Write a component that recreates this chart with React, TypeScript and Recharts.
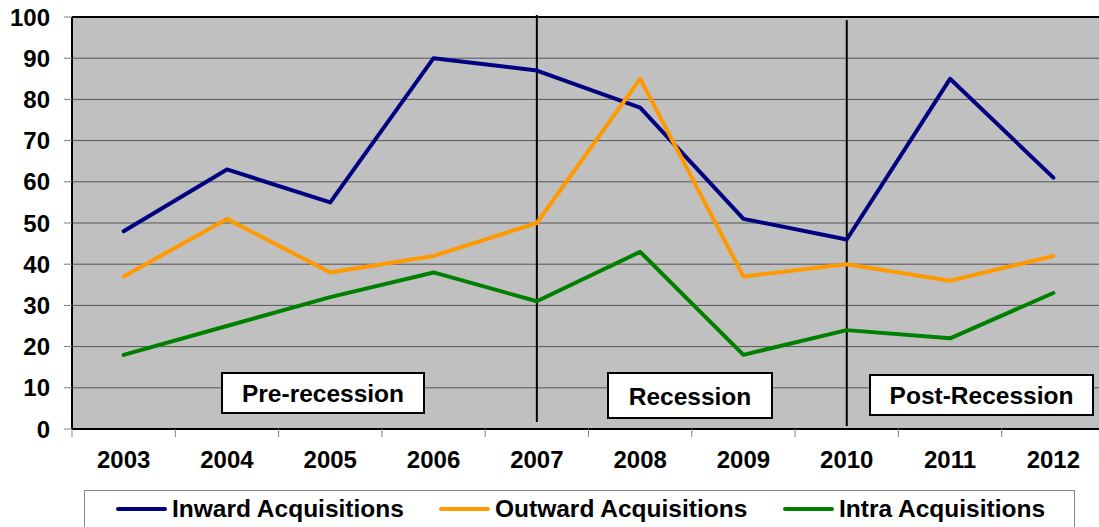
import React from "react"
import { LineChart, Line, XAxis, YAxis, CartesianGrid, ReferenceLine } from "recharts"

const years = ["2003", "2004", "2005", "2006", "2007", "2008", "2009", "2010", "2011", "2012"]
const inward = [48, 63, 55, 90, 87, 78, 51, 46, 85, 61]
const outward = [37, 51, 38, 42, 50, 85, 37, 40, 36, 42]
const intra = [18, 25, 32, 38, 31, 43, 18, 24, 22, 33]
const yTicks = [0, 10, 20, 30, 40, 50, 60, 70, 80, 90, 100]
const periodBreaks = ["2007", "2010"]

const series = [
  { key: "inward", name: "Inward Acquisitions", color: "#000080" },
  { key: "outward", name: "Outward Acquisitions", color: "#FF9900" },
  { key: "intra", name: "Intra Acquisitions", color: "#008000" },
]

const data = years.map((year, i) => ({
  year,
  inward: inward[i],
  outward: outward[i],
  intra: intra[i],
}))

const FONT = "Arial, 'Liberation Sans', sans-serif"
const CHART_W = 1120
const CHART_H = 527
const Y_W = 72
const RIGHT = 15
const BAND = (CHART_W - Y_W - RIGHT) / years.length

function YearTick({ x, y, payload }: any) {
  return (
    <g>
      <line x1={x - BAND / 2} x2={x - BAND / 2} y1={y} y2={y + 8} stroke="#808080" strokeWidth={1} />
      <text x={x} y={y + 39} textAnchor="middle" fontSize={24} fontWeight="bold" fill="#000" fontFamily={FONT}>
        {payload.value}
      </text>
    </g>
  )
}

const boxStyle: React.CSSProperties = {
  position: "absolute",
  boxSizing: "border-box",
  border: "2px solid #000",
  background: "#fff",
  display: "flex",
  alignItems: "center",
  justifyContent: "center",
  fontSize: 24.5,
  fontWeight: "bold",
  paddingTop: 2,
}

const periods = [
  { label: "Pre-recession", left: 221, top: 372, width: 204, height: 42 },
  { label: "Recession", left: 607, top: 372, width: 166, height: 47 },
  { label: "Post-Recession", left: 869, top: 374, width: 225, height: 42 },
]

const legendOffsets = [116, 439, 783]

export default function App() {
  return (
    <div
      style={{
        position: "absolute",
        left: 0,
        top: 0,
        width: 1099,
        height: 527,
        overflow: "hidden",
        background: "#fff",
        fontFamily: FONT,
        color: "#000",
      }}
    >
      <LineChart width={CHART_W} height={CHART_H} data={data} margin={{ top: 17, right: RIGHT, bottom: 58, left: 0 }}>
        <CartesianGrid vertical={false} stroke="#555" fill="#c0c0c0" />
        <XAxis
          dataKey="year"
          height={40}
          padding={{ left: BAND / 2, right: BAND / 2 }}
          axisLine={{ stroke: "#000", strokeWidth: 2 }}
          tickLine={false}
          tickSize={0}
          tickMargin={0}
          interval={0}
          tick={<YearTick />}
        />
        <YAxis
          width={Y_W}
          domain={[0, 100]}
          ticks={yTicks}
          interval={0}
          axisLine={{ stroke: "#000", strokeWidth: 2 }}
          tickLine={{ stroke: "#808080" }}
          tickSize={8}
          tickMargin={14}
          tick={{ fontSize: 24, fontWeight: "bold", fill: "#000", fontFamily: FONT }}
        />
        <ReferenceLine y={100} stroke="#000" strokeWidth={2} />
        {periodBreaks.map((yr, i) => (
          <ReferenceLine
            key={yr}
            segment={[
              { x: yr, y: i === 0 ? 100.5 : 99.3 },
              { x: yr, y: i === 0 ? 1.7 : 0.7 },
            ]}
            stroke="#000"
            strokeWidth={2}
            ifOverflow="visible"
          />
        ))}
        {series.map((s) => (
          <Line
            key={s.key}
            dataKey={s.key}
            name={s.name}
            stroke={s.color}
            strokeWidth={4}
            dot={false}
            type="linear"
            strokeLinejoin="round"
            strokeLinecap="round"
            isAnimationActive={false}
          />
        ))}
      </LineChart>

      {periods.map((p) => (
        <div key={p.label} style={{ ...boxStyle, left: p.left, top: p.top, width: p.width, height: p.height }}>
          {p.label}
        </div>
      ))}

      <div
        style={{
          position: "absolute",
          left: 84,
          top: 490,
          width: 991,
          height: 60,
          boxSizing: "border-box",
          border: "1px solid #888",
          background: "#fff",
        }}
      />
      {series.map((s, i) => (
        <React.Fragment key={s.key}>
          <div
            style={{
              position: "absolute",
              left: legendOffsets[i],
              top: 507,
              width: 51,
              height: 4,
              borderRadius: 2,
              background: s.color,
            }}
          />
          <div
            style={{
              position: "absolute",
              left: legendOffsets[i] + 56,
              top: 495,
              fontSize: 24.5,
              fontWeight: "bold",
              lineHeight: "28px",
              whiteSpace: "nowrap",
            }}
          >
            {s.name}
          </div>
        </React.Fragment>
      ))}
    </div>
  )
}
